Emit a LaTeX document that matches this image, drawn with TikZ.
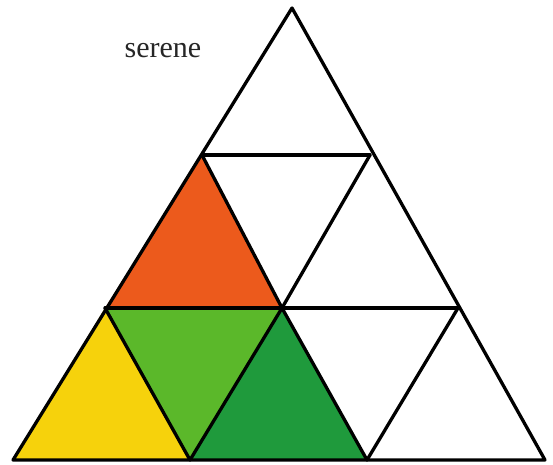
\documentclass[tikz,border=0pt]{standalone}
\usepackage{fontspec}
\setmainfont{Liberation Serif}
\definecolor{orangered}{HTML}{EC5A1C}
\definecolor{lightgreen}{HTML}{5BB82A}
\definecolor{yellowfill}{HTML}{F6D20C}
\definecolor{darkgreen}{HTML}{1F9A3C}
\begin{document}
\begin{tikzpicture}[x=1pt,y=-1pt,
  edge/.style={draw=black,line width=3.3pt,line join=round,line cap=round}]
\useasboundingbox (0,0) rectangle (553,464);
% vertices
\coordinate (a) at (292,8);
\coordinate (b1) at (202,155);
\coordinate (b2) at (370,155);
\coordinate (c1) at (105,308);
\coordinate (c2) at (282,308);
\coordinate (c3) at (458,308);
\coordinate (d1) at (13,460);
\coordinate (d2) at (190,460);
\coordinate (d3) at (367,460);
\coordinate (d4) at (545,460);
% fills
\fill[orangered] (b1) -- (c1) -- (c2) -- cycle;
\fill[lightgreen] (c1) -- (c2) -- (d2) -- cycle;
\fill[yellowfill] (c1) -- (d1) -- (d2) -- cycle;
\fill[darkgreen] (c2) -- (d2) -- (d3) -- cycle;
% grid lines
\draw[edge] (a) -- (d1) -- (d4) -- cycle;
\draw[edge] (b1) -- (b2);
\draw[edge] (c1) -- (c3);
\draw[edge] (b1) -- (c2) -- (d3);
\draw[edge] (b2) -- (c2) -- (d2) -- (c1);
\draw[edge] (c3) -- (d3);
% label
\node[font=\fontsize{30}{33}\selectfont, text=black!85] (lbl) at (163,51) {serene};
\end{tikzpicture}
\end{document}
